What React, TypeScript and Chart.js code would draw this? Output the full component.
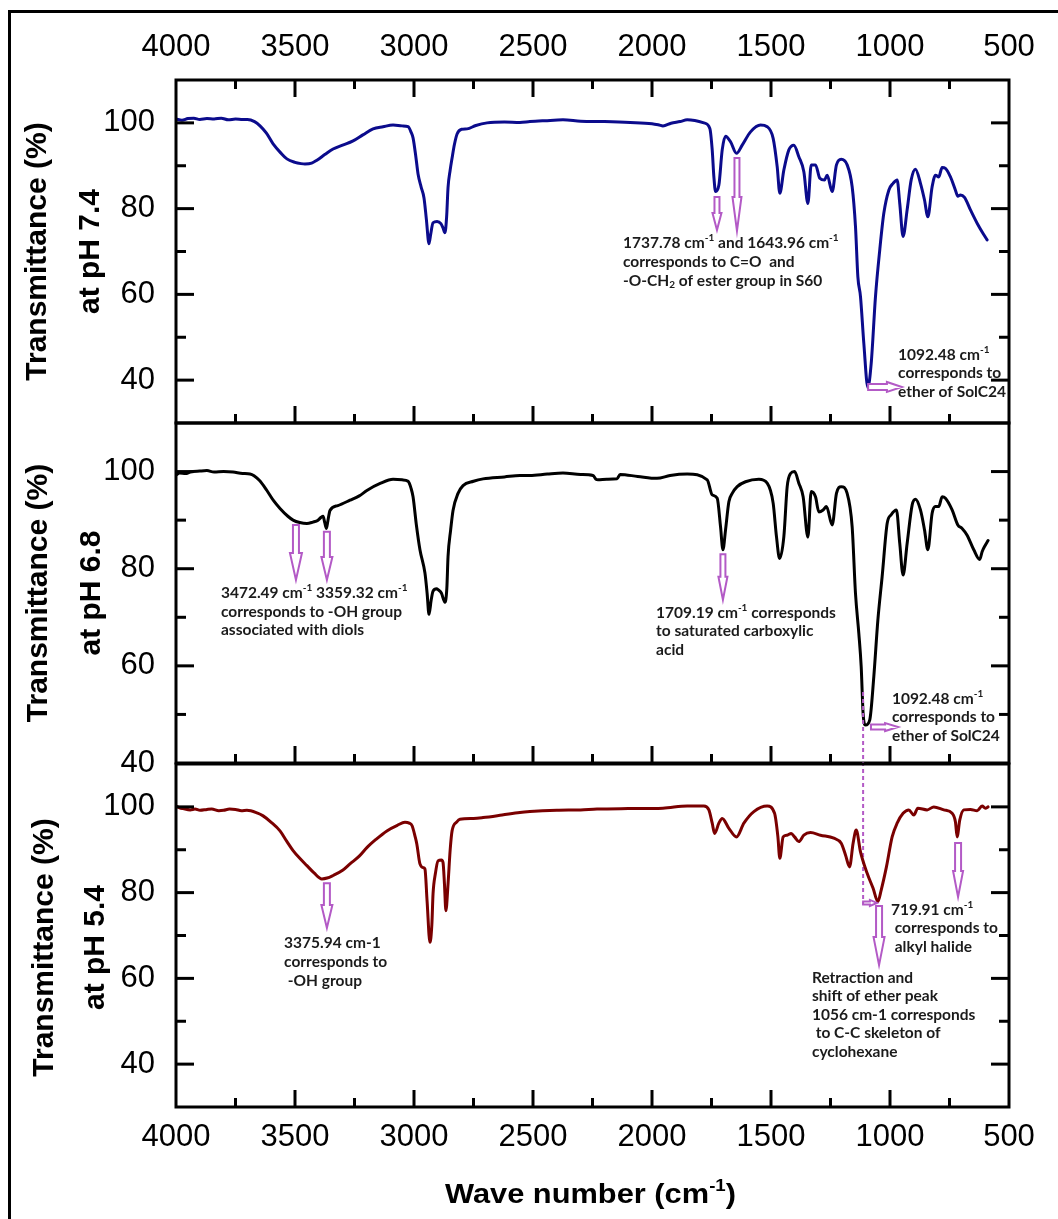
import { useEffect, useRef } from "react";
import { Chart, registerables } from "chart.js";

Chart.register(...registerables);

const PAGE_W = 1058;
const PAGE_H = 1219;
const PLOT_LEFT = 176;
const PLOT_RIGHT = 1009;

// ---------------- data (wavenumber cm-1 / transmittance %) ----------------
const wnTop = [4000,3975,3950,3925,3900,3870,3840,3810,3780,3750,3720,3700,3670,3647,3620,3592,3560,3534,3500,3475,3458,3430,3408,3375,3340,3300,3256,3215,3172,3130,3088,3050,3025,3012,3004,2992,2983,2970,2958,2948,2937,2930,2920,2903,2887,2878,2870,2863,2857,2848,2840,2830,2819,2800,2777,2740,2693,2620,2555,2513,2450,2374,2300,2200,2092,2000,1970,1954,1920,1882,1852,1782,1757,1747,1740,1733,1719,1705,1691,1670,1645,1621,1586,1544,1516,1491,1474,1463,1446,1425,1404,1383,1362,1345,1331,1313,1295,1275,1264,1243,1225,1205,1180,1159,1145,1135,1124,1110,1093,1079,1061,1043,1026,1005,987,970,959,945,928,911,893,872,855,841,823,809,795,781,767,746,725,715,704,687,662,634,609,592];
const tTop = [100.9,100.6,101.0,101.1,100.8,101.0,100.9,101.1,100.7,100.9,100.8,100.8,100.3,99.3,97.6,95.1,93.0,91.6,90.8,90.5,90.4,90.6,91.3,92.6,93.9,94.8,95.8,97.2,98.6,99.1,99.5,99.3,99.1,97.8,96.5,92.0,88.1,85.0,82.5,77.5,71.8,74.0,76.7,77.0,76.5,75.5,74.4,78.0,84.9,89.0,91.8,95.0,97.4,98.5,98.6,99.4,100.0,100.2,100.1,100.3,100.5,100.7,100.4,100.3,100.1,99.8,99.5,99.3,99.9,100.3,100.7,100.0,98.7,93.7,87.4,84.0,85.5,93.7,96.9,95.6,92.9,94.8,97.9,99.5,99.1,96.4,89.8,83.6,89.0,93.7,94.8,92.1,88.6,81.2,90.2,90.2,87.1,86.7,87.8,84.0,90.2,91.5,90.2,85.1,75.8,64.1,59.5,48.6,38.3,43.9,59.5,70.4,78.9,84.3,85.9,86.7,81.2,73.5,79.7,86.7,89.2,85.9,82.0,78.1,85.1,87.8,87.4,89.6,89.4,87.4,84.3,82.9,83.2,82.6,79.7,76.6,74.2,72.7];

const wnMid = [4000,3985,3960,3940,3900,3870,3840,3800,3760,3720,3689,3650,3618,3590,3563,3530,3508,3480,3450,3425,3403,3390,3382,3375,3368,3362,3353,3320,3269,3230,3198,3140,3088,3050,3025,3012,3004,2990,2975,2954,2945,2937,2928,2920,2905,2899,2885,2870,2862,2857,2846,2836,2815,2794,2750,2710,2620,2555,2513,2440,2374,2300,2248,2235,2227,2190,2147,2134,2060,1979,1924,1852,1768,1747,1726,1712,1702,1691,1677,1663,1642,1607,1551,1516,1491,1477,1464,1446,1432,1418,1401,1383,1365,1345,1331,1313,1299,1281,1267,1243,1225,1205,1180,1159,1145,1131,1121,1113,1103,1085,1068,1051,1033,1012,995,973,959,945,928,907,893,872,855,841,823,809,795,781,767,739,715,697,676,648,623,613,599,588];
const tMid = [99.3,99.7,99.6,99.9,100.1,100.2,99.9,100.0,99.9,99.6,99.5,98.2,96.1,94.0,92.4,90.8,90.0,89.5,89.3,89.6,90.0,90.6,90.8,89.5,88.3,89.8,92.0,93.0,94.1,95.0,96.1,97.6,98.4,98.3,98.0,96.5,94.8,89.0,83.9,79.1,75.0,70.6,73.5,75.4,75.9,75.7,75.0,73.1,76.0,82.5,88.0,92.0,95.5,97.1,98.0,98.5,98.9,99.2,99.2,99.5,99.7,99.4,99.2,98.4,98.3,98.4,98.5,99.4,99.0,98.6,99.2,99.5,98.3,95.2,94.5,88.6,83.9,88.0,93.8,95.5,96.9,97.9,98.4,97.6,93.5,86.6,82.1,86.6,96.9,99.6,100.0,97.6,94.8,86.5,95.9,94.8,91.7,92.1,92.8,89.0,95.5,96.9,95.5,88.6,74.9,66.7,59.8,50.2,47.8,48.9,57.8,69.4,78.4,89.3,91.1,92.1,85.2,78.7,85.2,93.1,94.3,92.1,88.0,83.9,91.4,92.8,92.8,94.8,94.5,92.1,89.0,88.3,86.9,83.9,81.9,83.5,84.9,85.8];

const wnBot = [4000,3985,3970,3940,3920,3899,3870,3850,3820,3800,3775,3750,3725,3702,3660,3634,3600,3563,3535,3508,3480,3450,3420,3387,3365,3340,3300,3269,3230,3198,3160,3114,3070,3038,3020,3008,2995,2988,2975,2960,2954,2945,2933,2925,2920,2910,2899,2885,2878,2872,2866,2857,2848,2840,2820,2807,2750,2710,2630,2555,2513,2400,2300,2231,2100,1954,1852,1782,1761,1747,1737,1719,1705,1677,1645,1614,1572,1516,1485,1471,1463,1449,1432,1415,1401,1383,1362,1334,1292,1236,1205,1187,1170,1155,1142,1124,1096,1071,1051,1037,1015,991,970,945,921,900,883,844,816,774,739,725,718,707,690,662,634,613,599,588];
const tBot = [100.2,99.8,99.6,99.3,99.5,99.2,99.4,99.5,99.1,99.2,99.5,99.4,99.1,99.2,98.6,97.9,96.4,94.4,92.0,89.8,88.0,86.3,84.6,83.2,83.4,84.0,85.2,86.7,88.5,90.5,92.4,94.4,95.7,96.4,96.2,95.6,93.0,91.3,86.7,85.8,85.5,78.0,68.4,72.5,79.7,84.5,87.4,87.6,87.0,82.0,75.8,82.0,90.0,94.4,96.5,97.1,97.3,97.5,98.1,98.7,98.9,99.2,99.3,99.5,99.6,99.7,100.2,100.2,99.3,96.2,93.8,96.2,97.3,95.0,93.0,96.2,98.9,100.2,98.5,93.0,88.0,93.0,93.4,93.8,93.0,91.9,93.4,94.0,93.4,92.7,91.5,88.8,86.0,91.5,94.6,89.5,84.5,81.0,77.9,80.6,86.0,93.0,96.2,98.5,99.3,98.1,99.7,99.3,100.0,99.3,98.5,96.5,93.0,96.9,99.3,99.4,99.1,100.2,99.7,100.0];

const xTickLabels = [4000, 3500, 3000, 2500, 2000, 1500, 1000, 500];
const xMinorTicks = [3750, 3250, 2750, 2250, 1750, 1250, 750];
const yTickLabels = [40, 60, 80, 100];
const yMinorTicks = [50, 70, 90];
const yTitle = "Transmittance (%)";
const phLabels = ["at pH 7.4", "at pH 6.8", "at pH 5.4"];
const xTitle = "Wave number (cm^{-1})";

// ---------------- annotations (data coordinates) ----------------
const notesTop = [
  { wn: 2122, t: 72.0, step: 19, lines: ["1737.78 cm^{-1} and 1643.96 cm^{-1}", "corresponds to C=O  and", "-O-CH_{2} of ester group in S60"] },
  { wn: 966, t: 45.9, step: 18.5, lines: ["1092.48 cm^{-1}", "corresponds to", "ether of SolC24"] },
];
const notesMid = [
  { wn: 3811, t: 75.0, step: 18.5, lines: ["3472.49 cm^{-1} 3359.32 cm^{-1}", "corresponds to -OH group", "associated with diols"] },
  { wn: 1983, t: 70.9, step: 18.3, lines: ["1709.19 cm^{-1} corresponds", "to saturated carboxylic", "acid"] },
  { wn: 992, t: 53.2, step: 18.5, lines: ["1092.48 cm^{-1}", "corresponds to", "ether of SolC24"] },
];
const notesBot = [
  { wn: 3546, t: 68.25, step: 19, lines: ["3375.94 cm-1", "corresponds to", " -OH group"] },
  { wn: 996, t: 75.95, step: 18.5, lines: ["719.91 cm^{-1}", " corresponds to", " alkyl halide"] },
  { wn: 1328, t: 60.1, step: 18.4, lines: ["Retraction and", "shift of ether peak", "1056 cm-1 corresponds", " to C-C skeleton of", "cyclohexane"] },
];
const arrowsTop = [
  { from: [1727, 82.7], to: [1727, 75.0], shaft: 5, head: 9, headLen: 17 },
  { from: [1643, 91.8], to: [1643, 74.8], shaft: 5, head: 9, headLen: 34 },
  { from: [1092, 38.4], to: [950, 38.4], shaft: 6, head: 10, headLen: 15 },
];
const arrowsMid = [
  { from: [3496, 89.0], to: [3496, 77.7], shaft: 6, head: 12, headLen: 27 },
  { from: [3366, 87.6], to: [3366, 77.7], shaft: 6, head: 11, headLen: 23 },
  { from: [1702, 83.0], to: [1702, 73.6], shaft: 5, head: 9, headLen: 23 },
  { from: [1080, 47.4], to: [966, 47.4], shaft: 5, head: 8, headLen: 13 },
];
const arrowsBot = [
  { from: [3366, 82.2], to: [3366, 71.75], shaft: 6, head: 11, headLen: 23 },
  { from: [1046, 76.9], to: [1046, 63.1], shaft: 6, head: 11, headLen: 28 },
  { from: [714, 91.6], to: [714, 79.0], shaft: 6, head: 10, headLen: 26 },
  { from: [1113, 77.6], to: [1055, 77.6], shaft: 3, head: 6, headLen: 7 },
];
const dottedMid = [{ wn: 1113, from: 54.6, to: 10.8 }];

// ---------------- styling / layout ----------------
const TICK_FONT = { family: "'Liberation Sans', Arial, sans-serif", size: 31 };
const TITLE_FAMILY = "'Liberation Sans', Arial, sans-serif";
const NOTE_FAMILY = "Lato, 'Open Sans', sans-serif";
const NOTE_SIZE = 15.5;
const PURPLE = "#b35ac6";

const panels = [
  { wn: wnTop, t: tTop, color: "#0b0b8c", yMin: 30, yMax: 110, top: 80, bottom: 423, xAxis: "top", ticksTop: true, ph: phLabels[0], titleX: [38, 91], titleDy: 0, notes: notesTop, arrows: arrowsTop, dotted: [] as any[] },
  { wn: wnMid, t: tMid, color: "#000000", yMin: 40, yMax: 110, top: 423, bottom: 763, xAxis: null, ticksTop: false, ph: phLabels[1], titleX: [39, 92], titleDy: 0, notes: notesMid, arrows: arrowsMid, dotted: dottedMid },
  { wn: wnBot, t: tBot, color: "#7a0000", yMin: 30, yMax: 110, top: 764, bottom: 1107, xAxis: "bottom", ticksTop: false, ph: phLabels[2], titleX: [45, 96], titleDy: 12, notes: notesBot, arrows: arrowsBot, dotted: [] as any[] },
];

function drawRich(ctx: CanvasRenderingContext2D, text: string, x: number, y: number, o: any) {
  const parts = text.split(/(\^\{[^}]*\}|_\{[^}]*\})/).filter((s) => s.length > 0);
  const segs = parts.map((s) =>
    s.startsWith("^{") ? { t: s.slice(2, -1), k: "sup" } : s.startsWith("_{") ? { t: s.slice(2, -1), k: "sub" } : { t: s, k: "n" }
  );
  const fontFor = (k: string) => `${o.weight} ${k === "n" ? o.size : Math.round(o.size * 0.62)}px ${o.family}`;
  let total = 0;
  const widths = segs.map((s) => {
    ctx.font = fontFor(s.k);
    const w = ctx.measureText(s.t).width;
    total += w;
    return w;
  });
  ctx.save();
  ctx.translate(x, y);
  ctx.scale(o.scaleX || 1, 1);
  ctx.fillStyle = o.color;
  ctx.textAlign = "left";
  ctx.textBaseline = "middle";
  let cx = o.align === "center" ? -total / 2 : 0;
  segs.forEach((s, k) => {
    ctx.font = fontFor(s.k);
    const dy = s.k === "sup" ? -o.size * 0.32 : s.k === "sub" ? o.size * 0.22 : 0;
    ctx.fillText(s.t, cx, dy);
    cx += widths[k];
  });
  ctx.restore();
}

function hollowArrow(ctx: CanvasRenderingContext2D, x1: number, y1: number, x2: number, y2: number, a: any) {
  const len = Math.hypot(x2 - x1, y2 - y1);
  const ang = Math.atan2(y2 - y1, x2 - x1);
  const sw = a.shaft / 2;
  const hw = a.head / 2;
  const hl = Math.min(a.headLen, len);
  ctx.save();
  ctx.translate(x1, y1);
  ctx.rotate(ang);
  ctx.beginPath();
  ctx.moveTo(0, -sw);
  ctx.lineTo(len - hl, -sw);
  ctx.lineTo(len - hl, -hw);
  ctx.lineTo(len, 0);
  ctx.lineTo(len - hl, hw);
  ctx.lineTo(len - hl, sw);
  ctx.lineTo(0, sw);
  ctx.closePath();
  ctx.fillStyle = "#ffffff";
  ctx.fill();
  ctx.strokeStyle = PURPLE;
  ctx.lineWidth = 2;
  ctx.lineJoin = "miter";
  ctx.stroke();
  ctx.restore();
}

function panelPlugin(p: any, idx: number) {
  return {
    id: "panelDeco" + idx,
    afterDraw(chart: any) {
      const { ctx, chartArea: a } = chart;
      const xs = chart.scales.x;
      const ys = chart.scales.y;
      const X = (v: number) => xs.getPixelForValue(v);
      const Y = (v: number) => ys.getPixelForValue(v);
      ctx.save();
      ctx.lineCap = "butt";
      ctx.strokeStyle = "#000";
      ctx.lineWidth = 3;
      ctx.strokeRect(a.left, a.top, a.right - a.left, a.bottom - a.top);
      const seg = (x1: number, y1: number, x2: number, y2: number) => {
        ctx.beginPath();
        ctx.moveTo(x1, y1);
        ctx.lineTo(x2, y2);
        ctx.stroke();
      };
      xTickLabels.slice(1, -1).forEach((v) => {
        const px = X(v);
        if (p.ticksTop) seg(px, a.top, px, a.top + 17);
        seg(px, a.bottom, px, a.bottom - 17);
      });
      xMinorTicks.forEach((v) => {
        const px = X(v);
        if (p.ticksTop) seg(px, a.top, px, a.top + 9);
        seg(px, a.bottom, px, a.bottom - 9);
      });
      yTickLabels.forEach((v) => {
        const py = Y(v);
        if (py > a.top + 2 && py < a.bottom - 2) {
          seg(a.left, py, a.left + 18, py);
          seg(a.right, py, a.right - 18, py);
        }
      });
      yMinorTicks.forEach((v) => {
        const py = Y(v);
        if (py > a.top + 2 && py < a.bottom - 2) {
          seg(a.left, py, a.left + 10, py);
          seg(a.right, py, a.right - 10, py);
        }
      });

      // rotated y titles
      const cy = (a.top + a.bottom) / 2 + p.titleDy;
      [yTitle, p.ph].forEach((txt: string, k: number) => {
        ctx.save();
        ctx.translate(p.titleX[k], cy);
        ctx.rotate(-Math.PI / 2);
        ctx.font = `bold 30px ${TITLE_FAMILY}`;
        ctx.fillStyle = "#000";
        ctx.textAlign = "center";
        ctx.textBaseline = "middle";
        ctx.fillText(txt, 0, 0);
        ctx.restore();
      });

      // dotted guide lines
      p.dotted.forEach((d: any) => {
        ctx.save();
        ctx.strokeStyle = PURPLE;
        ctx.lineWidth = 2;
        ctx.setLineDash([4, 3]);
        seg(X(d.wn), Y(d.from), X(d.wn), Y(d.to));
        ctx.restore();
      });

      // arrows
      p.arrows.forEach((ar: any) => {
        hollowArrow(ctx, X(ar.from[0]), Y(ar.from[1]), X(ar.to[0]), Y(ar.to[1]), ar);
      });

      // notes
      p.notes.forEach((n: any) => {
        const x0 = X(n.wn);
        const y0 = Y(n.t);
        n.lines.forEach((ln: string, k: number) => {
          drawRich(ctx, ln, x0, y0 + k * n.step, { size: NOTE_SIZE, weight: "bold", family: NOTE_FAMILY, color: "#1b1b1b", align: "left" });
        });
      });

      // x title (bottom panel)
      if (p.xAxis === "bottom") {
        drawRich(ctx, xTitle, (a.left + a.right) / 2 - 2, 1195, { size: 28, weight: "bold", family: TITLE_FAMILY, color: "#000", align: "center", scaleX: 1.1 });
      }
      ctx.restore();
    },
  };
}

function buildConfig(p: any, idx: number): any {
  const xPos = p.xAxis;
  const padding = {
    left: 0,
    right: PAGE_W - PLOT_RIGHT,
    top: xPos === "top" ? 0 : p.top,
    bottom: xPos === "bottom" ? 0 : PAGE_H - p.bottom,
  };
  return {
    type: "line",
    data: {
      datasets: [
        {
          data: p.wn.map((w: number, k: number) => ({ x: w, y: p.t[k] })),
          borderColor: p.color,
          borderWidth: 3,
          pointRadius: 0,
          fill: false,
          cubicInterpolationMode: "monotone",
          borderJoinStyle: "round",
          borderCapStyle: "round",
        },
      ],
    },
    options: {
      animation: false,
      responsive: false,
      devicePixelRatio: 1,
      events: [],
      layout: { padding },
      plugins: { legend: { display: false }, tooltip: { enabled: false }, title: { display: false } },
      scales: {
        x: {
          type: "linear",
          min: 500,
          max: 4000,
          reverse: true,
          display: xPos !== null,
          position: xPos || "bottom",
          grid: { display: false, drawTicks: false },
          border: { display: false },
          afterBuildTicks: (s: any) => {
            s.ticks = xTickLabels.map((v) => ({ value: v }));
          },
          afterFit: (s: any) => {
            if (xPos === "top") s.height = p.top;
            else if (xPos === "bottom") s.height = PAGE_H - p.bottom;
          },
          ticks: {
            autoSkip: false,
            maxRotation: 0,
            minRotation: 0,
            padding: xPos === "top" ? 14 : 12,
            color: "#000",
            font: TICK_FONT,
            callback: (v: any) => String(v),
          },
        },
        y: {
          type: "linear",
          min: p.yMin,
          max: p.yMax,
          position: "left",
          grid: { display: false, drawTicks: false },
          border: { display: false },
          afterBuildTicks: (s: any) => {
            s.ticks = yTickLabels.map((v) => ({ value: v }));
          },
          afterFit: (s: any) => {
            s.width = PLOT_LEFT;
          },
          ticks: {
            padding: 21,
            color: "#000",
            font: TICK_FONT,
            callback: (v: any) => String(v),
          },
        },
      },
    },
    plugins: [panelPlugin(p, idx)],
  };
}

export default function App() {
  const r0 = useRef<HTMLCanvasElement>(null);
  const r1 = useRef<HTMLCanvasElement>(null);
  const r2 = useRef<HTMLCanvasElement>(null);
  const refs = [r0, r1, r2];

  useEffect(() => {
    const charts = panels.map((p, i) => new Chart(refs[i].current as HTMLCanvasElement, buildConfig(p, i)));
    return () => charts.forEach((c) => c.destroy());
  }, []);

  return (
    <div style={{ position: "absolute", left: 0, top: 0, width: PAGE_W, height: PAGE_H, background: "#fff", overflow: "hidden" }}>
      <div
        style={{
          position: "absolute",
          left: 8,
          top: 10,
          width: PAGE_W + 20,
          height: PAGE_H + 20,
          borderLeft: "3px solid #000",
          borderTop: "3px solid #000",
        }}
      />
      {refs.map((r, i) => (
        <canvas key={i} ref={r} width={PAGE_W} height={PAGE_H} style={{ position: "absolute", left: 0, top: 0 }} />
      ))}
    </div>
  );
}
